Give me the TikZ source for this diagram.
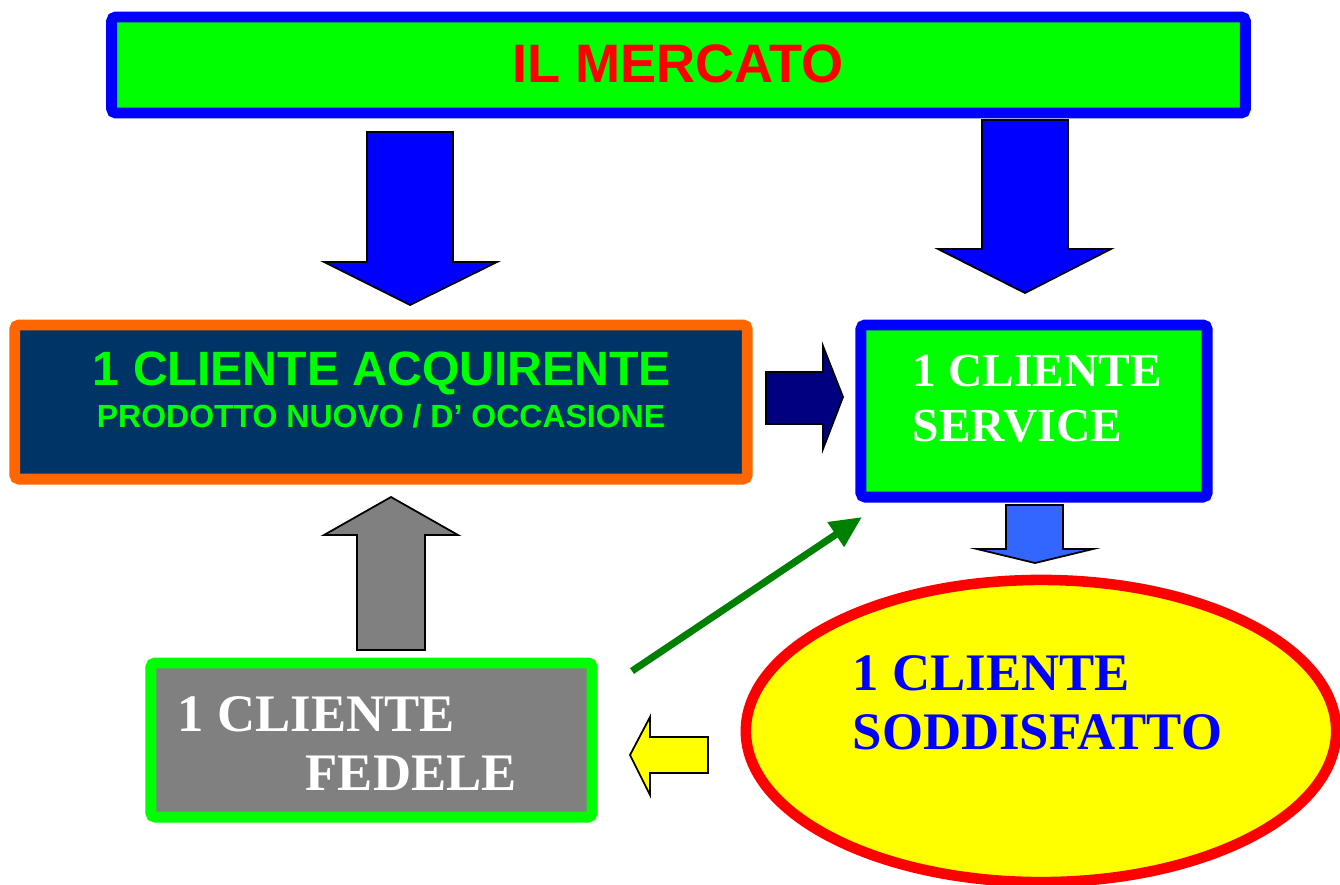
\documentclass[tikz,border=0pt]{standalone}
\usepackage{fontspec}
\setmainfont{Liberation Serif}
\newfontfamily\arialfont{Liberation Sans}
\usetikzlibrary{shapes.geometric, arrows.meta}

\definecolor{pgreen}{HTML}{00FF00}
\definecolor{pblue}{HTML}{0000FF}
\definecolor{pred}{HTML}{FF0000}
\definecolor{porange}{HTML}{FF6600}
\definecolor{pnavy}{HTML}{003366}
\definecolor{darknavy}{HTML}{000080}
\definecolor{skyblue}{HTML}{3366FF}
\definecolor{pgrey}{HTML}{808080}
\definecolor{dgreen}{HTML}{008000}
\definecolor{pyellow}{HTML}{FFFF00}

\tikzset{
	box/.style={rectangle, line width=3.1pt, rounded corners=1.2pt, inner sep=0pt},
	blockarrow/.style={draw=black, line width=0.5pt, line join=miter},
	sanstxt/.style={font=\arialfont\bfseries, inner sep=0pt},
	seriftxt/.style={font=\bfseries, inner sep=0pt, anchor=base west}
}

\begin{document}
\begin{tikzpicture}[x=0.01cm, y=-0.01cm]
	\useasboundingbox (0, 0) rectangle (1340, 884);

	% il mercato
	\node (mercato) at (678.5, 65) [box, draw=pblue, fill=pgreen, minimum width=11.33cm, minimum height=0.96cm] {};
	\node (mercatotxt) at (678, 64) [sanstxt, text=pred, font=\arialfont\bfseries\fontsize{15.4}{18}\selectfont] {IL MERCATO};

	\draw [blockarrow, fill=pblue] (367, 132) -- (453, 132) -- (453, 262) -- (497, 262) -- (410, 305) -- (324, 262) -- (367, 262) -- cycle;
	\draw [blockarrow, fill=pblue] (982, 120) -- (1068, 120) -- (1068, 249) -- (1111, 249) -- (1025, 293) -- (938, 249) -- (982, 249) -- cycle;

	% acquirente
	\node (acquirente) at (381, 402) [box, draw=porange, fill=pnavy, minimum width=7.32cm, minimum height=1.54cm] {};
	\node (acq1) at (382, 385) [sanstxt, anchor=base, text=pgreen, font=\arialfont\bfseries\fontsize{13.7}{16}\selectfont] {1 CLIENTE ACQUIRENTE};
	\node (acq2) at (381, 427) [sanstxt, anchor=base, text=pgreen, font=\arialfont\bfseries\fontsize{9.1}{11}\selectfont] {PRODOTTO NUOVO / D’ OCCASIONE};

	\draw [blockarrow, fill=darknavy] (766, 372) -- (823, 372) -- (823, 346) -- (843, 397) -- (823, 449) -- (823, 424) -- (766, 424) -- cycle;

	% service
	\node (service) at (1034, 411) [box, draw=pblue, fill=pgreen, minimum width=3.46cm, minimum height=1.72cm] {};
	\node (serv1) at (912, 386) [seriftxt, text=white, font=\bfseries\fontsize{13.5}{16}\selectfont] {1 CLIENTE};
	\node (serv2) at (912, 441) [seriftxt, text=white, font=\bfseries\fontsize{13.5}{16}\selectfont] {SERVICE};

	\draw [blockarrow, fill=skyblue] (1006, 505) -- (1063, 505) -- (1063, 549) -- (1093, 549) -- (1035, 563) -- (977, 549) -- (1006, 549) -- cycle;

	% soddisfatto
	\node (soddisfatto) at (1041, 731) [ellipse, draw=pred, fill=pyellow, line width=3pt, inner sep=0pt, minimum width=5.9cm, minimum height=3.02cm] {};
	\node (sodd1) at (852, 690) [seriftxt, text=pblue, font=\bfseries\fontsize{15}{18}\selectfont] {1 CLIENTE};
	\node (sodd2) at (852, 749) [seriftxt, text=pblue, font=\bfseries\fontsize{15}{18}\selectfont] {SODDISFATTO};

	\draw [blockarrow, fill=pyellow] (708, 737) -- (708, 773) -- (650, 773) -- (650, 795) -- (630, 755) -- (650, 717) -- (650, 737) -- cycle;

	% fedele
	\node (fedele) at (371.5, 740) [box, draw=pgreen, fill=pgrey, minimum width=4.41cm, minimum height=1.54cm] {};
	\node (fed1) at (177, 731) [seriftxt, text=white, font=\bfseries\fontsize{15}{18}\selectfont] {1 CLIENTE};
	\node (fed2) at (305, 790) [seriftxt, text=white, font=\bfseries\fontsize{15}{18}\selectfont] {FEDELE};

	\draw [blockarrow, fill=pgrey] (357, 650) -- (425, 650) -- (425, 535) -- (458, 535) -- (391, 497) -- (324, 535) -- (357, 535) -- cycle;

	\coordinate (fromfedele) at (632, 671);
	\coordinate (toservice) at (862, 517);
	\draw [dgreen, line width=2pt, -{Triangle[length=9pt, width=8pt]}] (fromfedele) -- (toservice);
\end{tikzpicture}
\end{document}
